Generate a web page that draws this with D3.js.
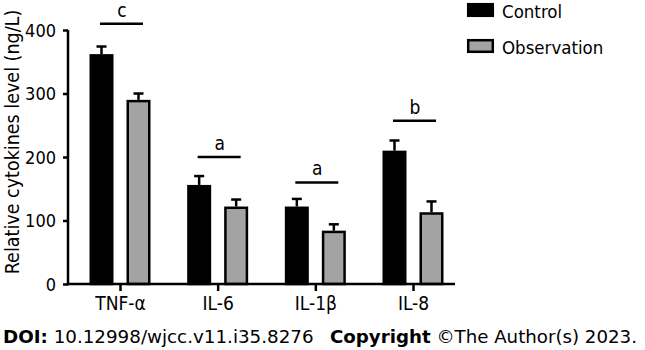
<!DOCTYPE html>
<html><head><meta charset="utf-8">
<script src="https://cdn.jsdelivr.net/npm/d3@7"></script>
<style>
body{margin:0;background:#fff;}
text{font-family:"DejaVu Sans Condensed","DejaVu Sans",sans-serif;fill:#000;}
text.foot{font-family:"DejaVu Sans",sans-serif;}
</style></head>
<body><svg id="c" width="645" height="350"></svg>
<script>
const categories = ["TNF-α","IL-6","IL-1β","IL-8"];
const seriesNames = ["Control","Observation"];
const controlMean = [362,156,122,210];
const controlErr = [12,14,12,16];
const obsMean = [290,122,84,113];
const obsErr = [10,11,10,17];
const sigLetters = ["c","a","a","b"];
const sigLevel = [410,200,160,257];
const yTicks = [0,100,200,300,400];

const svg = d3.select("#c");
const x = d3.scalePoint().domain(categories).range([120,413]);
const y = d3.scaleLinear().domain([0,400]).range([284,30]);
const colors = ["#000000","#a3a3a3"];
const off = 18.5, bw = 21.5, sw = 2.5;

const data = categories.map((c,i)=>({c, vals:[{s:0,m:controlMean[i],e:controlErr[i]},{s:1,m:obsMean[i],e:obsErr[i]}]}));

// error bars and bars
const g = svg.append("g");
data.forEach(d=>{
  d.vals.forEach(v=>{
    const cx = x(d.c) + (v.s===0?-off:off);
    g.append("line").attr("x1",cx).attr("x2",cx).attr("y1",y(v.m)).attr("y2",y(v.m+v.e))
      .attr("stroke","#000").attr("stroke-width",sw);
    g.append("line").attr("x1",cx-5).attr("x2",cx+5).attr("y1",y(v.m+v.e)).attr("y2",y(v.m+v.e))
      .attr("stroke","#000").attr("stroke-width",sw);
    g.append("rect").attr("x",cx-bw/2).attr("width",bw)
      .attr("y",y(v.m)+sw/2).attr("height",y(0)-y(v.m)-sw/2)
      .attr("fill",colors[v.s]).attr("stroke","#000").attr("stroke-width",sw);
  });
});

// significance
categories.forEach((c,i)=>{
  svg.append("line").attr("x1",x(c)-20).attr("x2",x(c)+23).attr("y1",y(sigLevel[i])).attr("y2",y(sigLevel[i]))
    .attr("stroke","#000").attr("stroke-width",sw);
  svg.append("text").attr("x",x(c)+2).attr("y",y(sigLevel[i])-7).attr("text-anchor","middle")
    .style("font-size","19px").text(sigLetters[i]);
});

// y axis
const ya = svg.append("g").attr("transform","translate(68,0)")
  .call(d3.axisLeft(y).tickValues(yTicks).tickSize(5).tickPadding(7).tickSizeOuter(0));
ya.select(".domain").attr("stroke-width",sw).attr("d","M0,285.2V30");
ya.selectAll(".tick line").attr("stroke-width",sw);
ya.selectAll(".tick text").style("font-size","18px").style("font-family",null).attr("dy","0.36em");

// x axis
const xa = svg.append("g").attr("transform","translate(0,284)")
  .call(d3.axisBottom(x).tickSize(7).tickPadding(6).tickSizeOuter(0));
xa.select(".domain").remove();
xa.append("line").attr("x1",66.8).attr("x2",455).attr("stroke","#000").attr("stroke-width",sw);
xa.selectAll(".tick line").attr("stroke-width",sw);
xa.selectAll(".tick text").style("font-size","19px").style("font-family",null).attr("dy","0.71em");

// y title
svg.append("text").attr("transform","translate(18.5,142) rotate(-90)").attr("text-anchor","middle")
  .style("font-size","19.5px").text("Relative cytokines level (ng/L)");

// legend
const lg = svg.append("g");
seriesNames.forEach((s,i)=>{
  const yy = i===0?3:39;
  lg.append("rect").attr("x",468.2).attr("y",yy+1.2).attr("width",24.6).attr("height",11.6)
    .attr("fill",colors[i]).attr("stroke","#000").attr("stroke-width",sw);
  lg.append("text").attr("x",502).attr("y",yy+15).style("font-size","18.5px").text(s);
});

// footer
const f1 = svg.append("text").attr("class","foot").attr("x",3).attr("y",343).style("font-size","18.3px");
f1.append("tspan").style("font-weight","bold").text("DOI:");
f1.append("tspan").text(" 10.12998/wjcc.v11.i35.8276");
const f2 = svg.append("text").attr("class","foot").attr("x",330).attr("y",343).style("font-size","18.2px");
f2.append("tspan").style("font-weight","bold").text("Copyright");
f2.append("tspan").text(" ©The Author(s) 2023.");
</script></body></html>
